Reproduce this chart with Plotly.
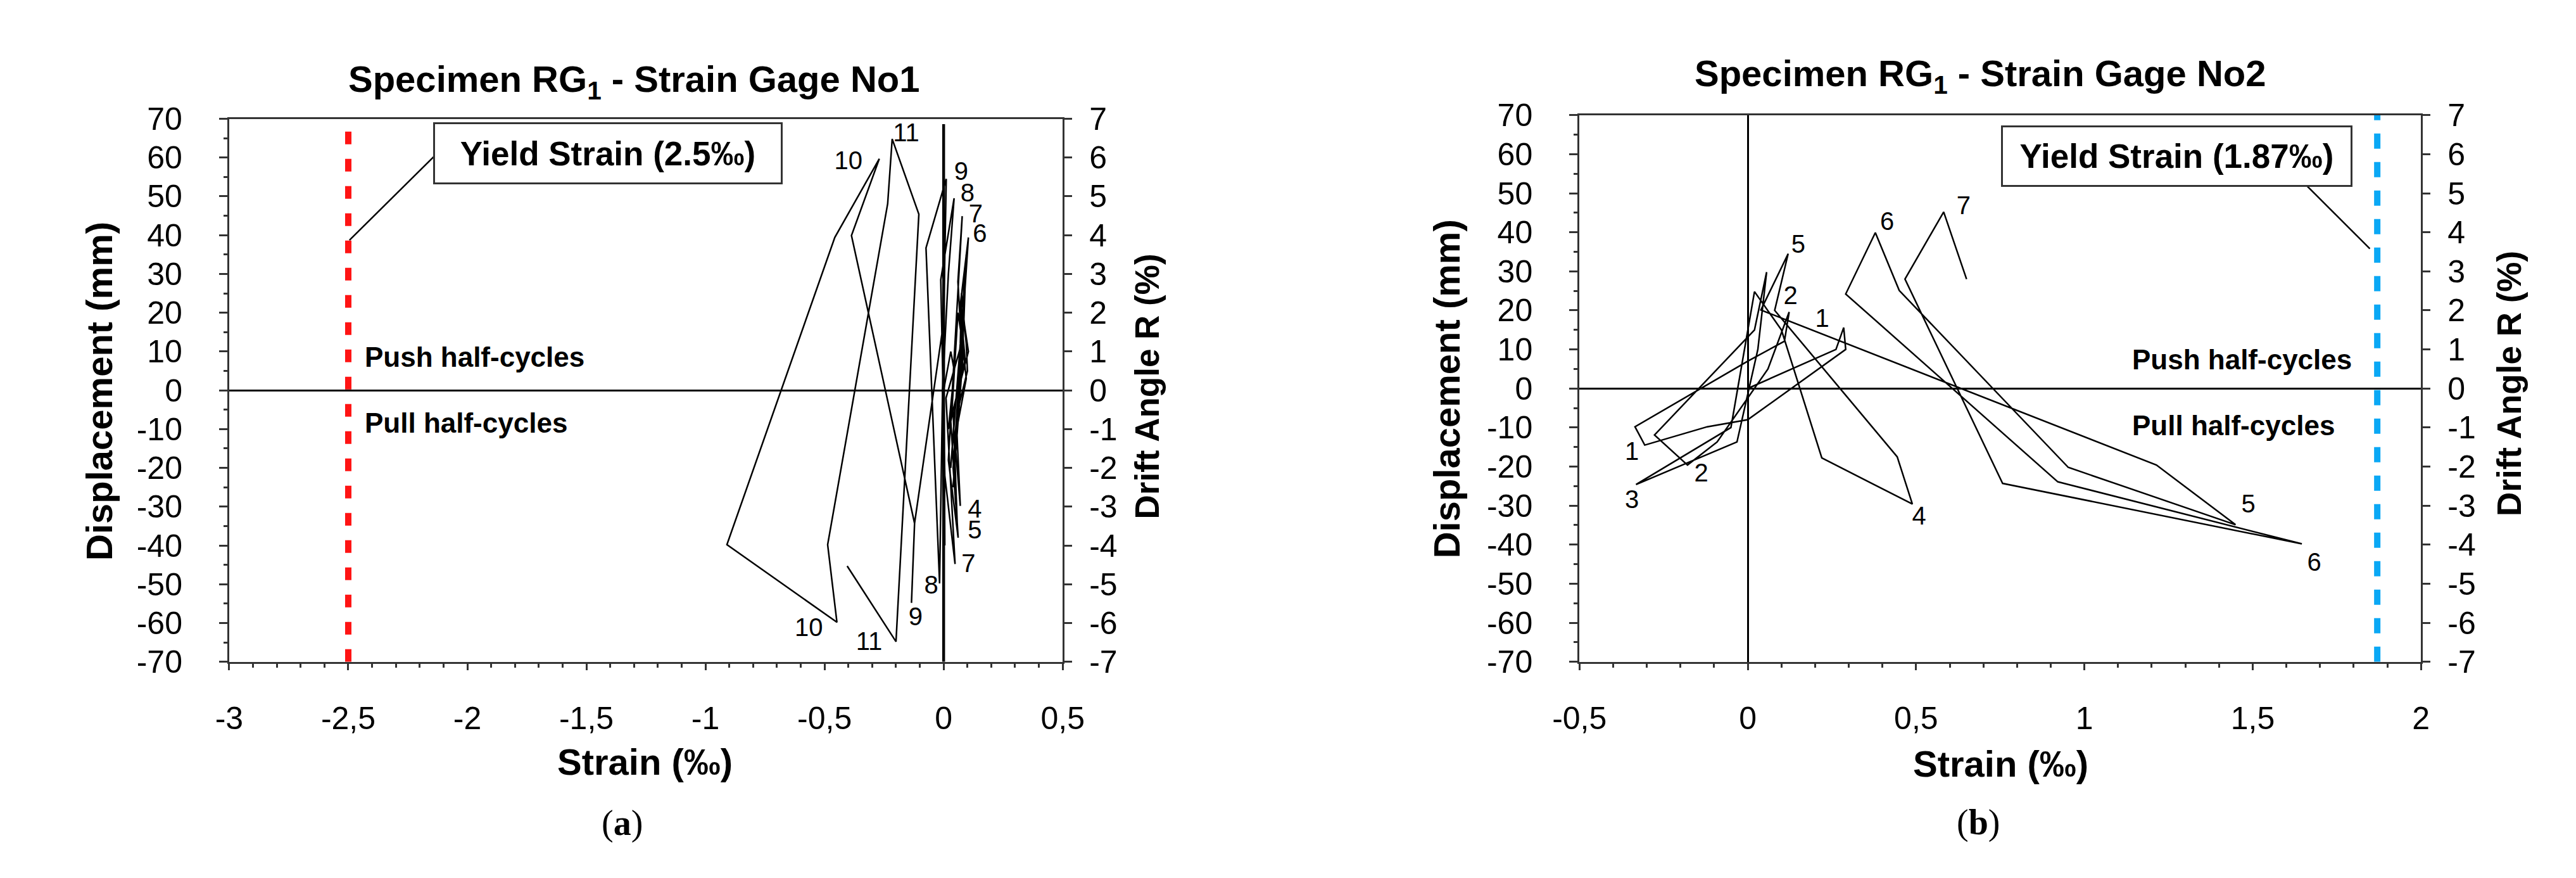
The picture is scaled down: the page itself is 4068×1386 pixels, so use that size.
import plotly.graph_objects as go

# ---------------- DATA ----------------
# Panel (a): Specimen RG1 - Strain Gage No1  (strain in permil, displacement in mm)
g1_strain = [0.000, 0.030, 0.045, 0.020, 0.035,
             0.060, 0.085, 0.050, 0.030, 0.045,
             0.070, 0.075, 0.095, 0.100, 0.060, 0.040, 0.055,
             0.080, 0.090, 0.075, 0.095, 0.055, 0.070, 0.050,
             0.085, 0.095, 0.080, 0.104, 0.040, 0.057, 0.040,
             0.090, 0.104, 0.070, 0.090, 0.030, 0.061, 0.020,
             0.065, 0.078, 0.060, 0.075, 0.010, 0.048, 0.005,
             -0.012, 0.044, 0.020, -0.005, 0.005, 0.000,
             0.011, -0.074, -0.017, 0.000,
             -0.122, -0.135, -0.122, -0.387, -0.270, -0.457, -0.910,
             -0.448, -0.487, -0.235, -0.216, -0.104, -0.200, -0.405]
g1_disp = [0.0, 10.0, 5.0, -10.0, -5.0,
           20.0, 10.0, -3.0, -20.0, -8.0,
           12.0, 25.0, 12.0, 5.0, -5.0, -25.0, -12.0,
           8.0, 32.0, 15.0, 3.0, -10.0, -29.8, -15.0,
           18.0, 35.0, 20.0, 10.0, -5.0, -34.3, -20.0,
           25.0, 39.4, 22.0, 8.0, -8.0, -38.0, -18.0,
           30.0, 44.9, 28.0, 12.0, -2.0, -44.8, -22.0,
           28.5, 49.5, 30.0, 0.0, -40.0, 17.6,
           54.5, 36.7, -49.8, 17.6,
           -34.3, -54.8, -34.3, 39.9, 59.7, 39.4, -39.8,
           -59.8, -39.8, 48.1, 64.8, 45.4, -64.8, -45.3]
g1_lab_text = ["11", "10", "9", "8", "7", "6", "4", "5", "7", "8", "9", "10", "11"]
g1_lab_x = [-0.157, -0.400, 0.074, 0.100, 0.135, 0.152, 0.131, 0.131, 0.104, -0.052, -0.118, -0.566, -0.313]
g1_lab_y = [65.8, 58.6, 55.8, 50.4, 44.9, 39.9, -31.1, -36.6, -45.3, -50.7, -58.9, -61.7, -65.3]
g1_yield = -2.5
g1_yield_top = 68.4
g1_zero_top = 68.6

# Panel (b): Specimen RG1 - Strain Gage No2
g2_strain = [0.000, 0.262, 0.285, 0.291, 0.000, -0.120, -0.306, -0.335,
             0.000, 0.109, 0.123, 0.060, -0.091, -0.179, -0.277,
             0.020, 0.056, 0.030, -0.032, -0.332, -0.050,
             0.020, 0.100, 0.220, 0.489, 0.444,
             0.080, 0.120, 0.039, 1.214, 1.449,
             0.952, 0.450, 0.379, 0.291, 0.921, 1.646,
             0.757, 0.467, 0.582, 0.650]
g2_disp = [0.0, 10.0, 15.6, 10.0, -8.0, -9.8, -14.5, -9.8,
           7.0, 12.1, 19.6, 5.0, -13.7, -19.6, -11.9,
           15.0, 29.8, 10.0, -13.7, -24.6, -10.0,
           24.8, 15.0, -17.8, -29.6, -17.5,
           20.0, 34.5, 20.1, -19.6, -34.9,
           -20.2, 25.1, 39.9, 24.2, -23.9, -39.8,
           -24.3, 28.0, 45.2, 28.0]
g2_lab_text = ["1", "2", "5", "6", "7", "1", "2", "3", "4", "5", "6"]
g2_lab_x = [0.221, 0.127, 0.150, 0.414, 0.641, -0.344, -0.138, -0.344, 0.509, 1.487, 1.683]
g2_lab_y = [17.4, 23.3, 36.3, 42.2, 46.2, -16.6, -22.2, -29.0, -33.2, -30.1, -45.0]
g2_yield = 1.87
g2_yield_top = 71.4

# ticks
disp_ticks = list(range(-70, 71, 10))
disp_text = [str(v) for v in disp_ticks]
drift_ticks = list(range(-7, 8))
drift_text = [str(v) for v in drift_ticks]
g1_xticks = [-3, -2.5, -2, -1.5, -1, -0.5, 0, 0.5]
g1_xtext = ["-3", "-2,5", "-2", "-1,5", "-1", "-0,5", "0", "0,5"]
g2_xticks = [-0.5, 0, 0.5, 1, 1.5, 2]
g2_xtext = ["-0,5", "0", "0,5", "1", "1,5", "2"]

# annotation anchors (data units)
g1_box = (-1.409, 61.07)
g1_leader = ((-2.12, 61.5), (-2.495, 38.7))
g2_box = (1.274, 59.5)
g2_leader = ((1.660, 51.96), (1.848, 35.8))
g1_push = (-2.436, 8.6)
g1_pull = (-2.436, -8.4)
g2_push = (1.138, 7.5)
g2_pull = (1.138, -9.5)

# ---------------- FIGURE ----------------
SANS = "Liberation Sans, Arial, Helvetica, sans-serif"
SERIF = "Liberation Serif, Times New Roman, serif"
AX = "#333333"

fig = go.Figure()

fig.add_trace(go.Scatter(x=g1_strain, y=g1_disp, mode="lines",
                         line=dict(color="black", width=2.5), xaxis="x", yaxis="y"))
fig.add_trace(go.Scatter(x=[g1_yield, g1_yield], y=[-70, g1_yield_top], mode="lines",
                         line=dict(color="#ff1414", width=10, dash="20px,23px"),
                         xaxis="x", yaxis="y"))
fig.add_trace(go.Scatter(x=[0, 0], y=[-70, g1_zero_top], mode="lines",
                         line=dict(color="black", width=4.5), xaxis="x", yaxis="y"))
fig.add_trace(go.Scatter(x=g1_lab_x, y=g1_lab_y, mode="text", text=g1_lab_text,
                         textfont=dict(family=SANS, size=40, color="black"),
                         cliponaxis=False, xaxis="x", yaxis="y"))

fig.add_trace(go.Scatter(x=g2_strain, y=g2_disp, mode="lines",
                         line=dict(color="black", width=2.5), xaxis="x2", yaxis="y3"))
fig.add_trace(go.Scatter(x=[g2_yield, g2_yield], y=[-70, g2_yield_top], mode="lines",
                         line=dict(color="#0aa8f5", width=10, dash="24px,21px"),
                         xaxis="x2", yaxis="y3", cliponaxis=False))
fig.add_trace(go.Scatter(x=g2_lab_x, y=g2_lab_y, mode="text", text=g2_lab_text,
                         textfont=dict(family=SANS, size=40, color="black"),
                         cliponaxis=False, xaxis="x2", yaxis="y3"))

tickfont = dict(family=SANS, size=50, color="black")


def xax(domain, rng, tv, tt, anchor, zl):
    return dict(domain=domain, range=rng, anchor=anchor, tickvals=tv, ticktext=tt,
                ticks="outside", ticklen=10, tickwidth=3, tickcolor=AX,
                showline=True, linewidth=3, linecolor=AX, mirror=True,
                showgrid=False, zeroline=zl, zerolinecolor="black", zerolinewidth=3,
                minor=dict(dtick=0.1, ticks="outside", ticklen=6, tickwidth=3,
                           tickcolor=AX, showgrid=False),
                tickfont=tickfont, ticklabelstandoff=33, fixedrange=True)


def yax(domain, anchor):
    return dict(domain=domain, range=[-70, 70], anchor=anchor, tickvals=disp_ticks,
                ticktext=disp_text, ticks="outside", ticklen=13, tickwidth=3, tickcolor=AX,
                showline=True, linewidth=3, linecolor=AX, showgrid=False,
                zeroline=True, zerolinecolor="black", zerolinewidth=2.5,
                minor=dict(dtick=5, ticks="outside", ticklen=6, tickwidth=3,
                           tickcolor=AX, showgrid=False),
                tickfont=tickfont, ticklabelstandoff=48, fixedrange=True)


def y2ax(overlay, anchor):
    return dict(overlaying=overlay, side="right", anchor=anchor, range=[-7, 7],
                tickvals=drift_ticks, ticktext=drift_text, ticks="outside", ticklen=12,
                tickwidth=3, tickcolor=AX, showline=True, linewidth=3, linecolor=AX,
                showgrid=False, zeroline=False, tickfont=tickfont,
                ticklabelstandoff=17, fixedrange=True)


fig.update_layout(
    width=4068, height=1386, autosize=False,
    margin=dict(l=0, r=0, t=0, b=0),
    paper_bgcolor="white", plot_bgcolor="white", showlegend=False,
    xaxis=xax([0.07793, 0.40782], [-3, 0.5], g1_xticks, g1_xtext, "y", False),
    yaxis=yax([0.24098, 0.88600], "x"),
    yaxis2=y2ax("y", "x"),
    xaxis2=xax([0.61234, 0.94543], [-0.5, 2], g2_xticks, g2_xtext, "y3", True),
    yaxis3=yax([0.24098, 0.89033], "x2"),
    yaxis4=y2ax("y3", "x2"),
)
# invisible traces so that the right-hand axes are drawn
fig.add_trace(go.Scatter(x=[None], y=[None], mode="lines", xaxis="x", yaxis="y2", showlegend=False))
fig.add_trace(go.Scatter(x=[None], y=[None], mode="lines", xaxis="x2", yaxis="y4", showlegend=False))

# leader lines
fig.add_shape(type="line", xref="x", yref="y", x0=g1_leader[0][0], y0=g1_leader[0][1],
              x1=g1_leader[1][0], y1=g1_leader[1][1], line=dict(color="black", width=2.5))
fig.add_shape(type="line", xref="x2", yref="y3", x0=g2_leader[0][0], y0=g2_leader[0][1],
              x1=g2_leader[1][0], y1=g2_leader[1][1], line=dict(color="black", width=2.5))

ann = []
boxfont = dict(family=SANS, size=53, color="black")
ann.append(dict(x=g1_box[0], y=g1_box[1], xref="x", yref="y", text="<b>Yield Strain (2.5‰)</b>",
                showarrow=False, font=boxfont, bgcolor="white", bordercolor=AX,
                borderwidth=3, borderpad=3, width=540, height=86, xanchor="center", yanchor="middle"))
ann.append(dict(x=g2_box[0], y=g2_box[1], xref="x2", yref="y3", text="<b>Yield Strain (1.87‰)</b>",
                showarrow=False, font=boxfont, bgcolor="white", bordercolor=AX,
                borderwidth=3, borderpad=3, width=543, height=85, xanchor="center", yanchor="middle"))
hfont = dict(family=SANS, size=44, color="black")
for (px, py), t, xr, yr in [(g1_push, "Push half-cycles", "x", "y"), (g1_pull, "Pull half-cycles", "x", "y"),
                            (g2_push, "Push half-cycles", "x2", "y3"), (g2_pull, "Pull half-cycles", "x2", "y3")]:
    ann.append(dict(x=px, y=py, xref=xr, yref=yr, text="<b>%s</b>" % t, showarrow=False,
                    font=hfont, xanchor="left", yanchor="middle"))

tfont = dict(family=SANS, size=58, color="black")
ann += [
    dict(x=0.2380, y=0.930, xref="paper", yref="paper", showarrow=False, font=tfont,
         text="<b>Specimen RG<sub>1</sub> - Strain Gage No1</b>", xanchor="center", yanchor="middle"),
    dict(x=0.7709, y=0.9365, xref="paper", yref="paper", showarrow=False, font=tfont,
         text="<b>Specimen RG<sub>1</sub> - Strain Gage No2</b>", xanchor="center", yanchor="middle"),
    dict(x=0.0263, y=0.5628, xref="paper", yref="paper", showarrow=False, font=tfont, textangle=-90,
         text="<b>Displacement (mm)</b>", xanchor="center", yanchor="middle"),
    dict(x=0.5597, y=0.565, xref="paper", yref="paper", showarrow=False, font=tfont, textangle=-90,
         text="<b>Displacement (mm)</b>", xanchor="center", yanchor="middle"),
    dict(x=0.4412, y=0.568, xref="paper", yref="paper", showarrow=False,
         font=dict(family=SANS, size=53, color="black"), textangle=-90,
         text="<b>Drift Angle R (%)</b>", xanchor="center", yanchor="middle"),
    dict(x=0.9803, y=0.5714, xref="paper", yref="paper", showarrow=False,
         font=dict(family=SANS, size=53, color="black"), textangle=-90,
         text="<b>Drift Angle R (%)</b>", xanchor="center", yanchor="middle"),
    dict(x=0.2426, y=0.122, xref="paper", yref="paper", showarrow=False, font=tfont,
         text="<b>Strain (‰)</b>", xanchor="center", yanchor="middle"),
    dict(x=0.779, y=0.1198, xref="paper", yref="paper", showarrow=False, font=tfont,
         text="<b>Strain (‰)</b>", xanchor="center", yanchor="middle"),
    dict(x=0.2335, y=0.049, xref="paper", yref="paper", showarrow=False,
         font=dict(family=SERIF, size=56, color="black"),
         text="(<b>a</b>)", xanchor="center", yanchor="middle"),
    dict(x=0.7702, y=0.0498, xref="paper", yref="paper", showarrow=False,
         font=dict(family=SERIF, size=56, color="black"),
         text="(<b>b</b>)", xanchor="center", yanchor="middle"),
]
fig.update_layout(annotations=ann)

fig.write_html("out.html")
